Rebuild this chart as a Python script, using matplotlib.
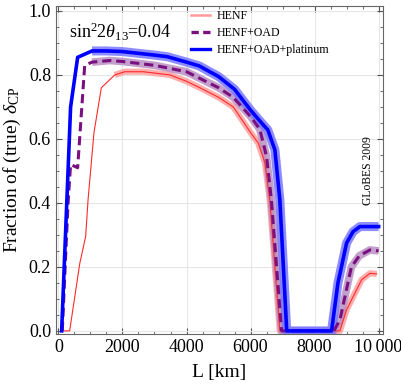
import matplotlib
matplotlib.use("Agg")
import matplotlib.pyplot as plt
from matplotlib.ticker import MultipleLocator, FixedLocator

plt.rcParams['font.family'] = ['Liberation Serif', 'DejaVu Serif']
plt.rcParams['mathtext.fontset'] = 'custom'
plt.rcParams['mathtext.rm'] = 'Liberation Serif'
plt.rcParams['mathtext.it'] = 'Liberation Serif:italic'

# Data
L_red = [140, 350, 665, 850, 925, 1110, 1340, 1760, 2070, 2650, 3480, 4000, 4416, 5000, 5460, 6000, 6240, 6450, 6600, 6915, 8790, 9000, 9470, 9730, 9940]
v_red = [0, 0, 0.21, 0.295, 0.41, 0.62, 0.76, 0.80, 0.81, 0.81, 0.80, 0.78, 0.76, 0.73, 0.70, 0.62, 0.587, 0.525, 0.41, 0, 0, 0.066, 0.16, 0.18, 0.178]

L_pur = [120, 300, 380, 600, 820, 1050, 1600, 2000, 3000, 4000, 4400, 5000, 5460, 6000, 6290, 6500, 6650, 6970, 8600, 8790, 9150, 9400, 9730, 10000]
v_pur = [0, 0.4, 0.52, 0.51, 0.83, 0.84, 0.845, 0.842, 0.83, 0.81, 0.79, 0.76, 0.73, 0.67, 0.63, 0.545, 0.41, 0, 0, 0.034, 0.2, 0.235, 0.253, 0.25]

L_blu = [100, 260, 380, 600, 1050, 1500, 2000, 3000, 3400, 4000, 4400, 5000, 5500, 6000, 6300, 6540, 6760, 6915, 7130, 8530, 8730, 9000, 9200, 9415, 10000]
v_blu = [0, 0.4, 0.7, 0.855, 0.875, 0.875, 0.873, 0.862, 0.857, 0.84, 0.828, 0.795, 0.755, 0.69, 0.655, 0.628, 0.566, 0.41, 0, 0, 0.15, 0.275, 0.31, 0.326, 0.326]

labels = ["HENF", "HENF+OAD", "HENF+OAD+platinum"]
xticks = [0, 2000, 4000, 6000, 8000, 10000]
xticklabels = ["0", "2000", "4000", "6000", "8000", "10\u2009000"]
yticks = [0.0, 0.2, 0.4, 0.6, 0.8, 1.0]

fig = plt.figure(figsize=(4.02, 3.84), dpi=100)
ax = fig.add_axes([0.139, 0.130, 0.814, 0.854])

# bands
rb = 7
ax.plot(L_red[rb:], v_red[rb:], color='#ff9a9a', lw=4.5, alpha=0.8, solid_capstyle='butt', zorder=1)
pb = 5
ax.plot(L_pur[pb:], v_pur[pb:], color='#b48ac0', lw=5.5, alpha=0.8, solid_capstyle='butt', zorder=2)
bb = 4
ax.plot(L_blu[bb:], v_blu[bb:], color='#7878ff', lw=6.5, alpha=0.85, solid_capstyle='butt', zorder=3)

l1, = ax.plot(L_red, v_red, color='#ff2a2a', lw=0.8, zorder=4)
l2, = ax.plot(L_pur, v_pur, color='#7a1080', lw=2.2, dashes=(3, 1.6), zorder=5)
l3, = ax.plot(L_blu, v_blu, color='#0000ff', lw=2.6, zorder=6)

# legend proxies
h1, = ax.plot([], [], color='#ff9a9a', lw=1.8)
h2, = ax.plot([], [], color='#7a1080', lw=2.4, dashes=(2.2, 1.3))
h3, = ax.plot([], [], color='#0000ff', lw=2.4)
leg = ax.legend([h1, h2, h3], labels, loc='upper left', bbox_to_anchor=(0.413, 0.987),
                frameon=False, fontsize=8.6, handlelength=1.6, handletextpad=0.55,
                labelspacing=0.42, borderaxespad=0, borderpad=0)

ax.set_xlim(-80, 10140)
ax.set_ylim(-0.01, 1.015)
ax.xaxis.set_major_locator(FixedLocator(xticks))
ax.set_xticklabels(xticklabels)
ax.yaxis.set_major_locator(FixedLocator(yticks))
ax.set_yticklabels([f"{v:.1f}" for v in yticks])
ax.xaxis.set_minor_locator(MultipleLocator(500))
ax.yaxis.set_minor_locator(MultipleLocator(0.05))
ax.tick_params(which='both', direction='in', top=True, right=True, labelsize=13, color='#555555')
ax.tick_params(which='major', length=4)
ax.tick_params(which='minor', length=2)
ax.grid(True, which='major', color='#e6e6e6', lw=0.8)
ax.set_axisbelow(True)
for s in ax.spines.values():
    s.set_color('#666666')
    s.set_linewidth(0.8)

ax.set_xlabel("L [km]", fontsize=14, labelpad=6)
ax.set_ylabel(r"Fraction of (true) $\delta_{\rm CP}$", fontsize=14, labelpad=4)

ax.text(0.04, 0.955, r"sin$^2$2$\theta_{13}$=0.04", transform=ax.transAxes, fontsize=13,
        va='top', ha='left')
ax.text(0.954, 0.5, "GLoBES 2009", transform=ax.transAxes, fontsize=8.4, rotation=90,
        va='center', ha='center')

fig.savefig("out.png", dpi=100)
